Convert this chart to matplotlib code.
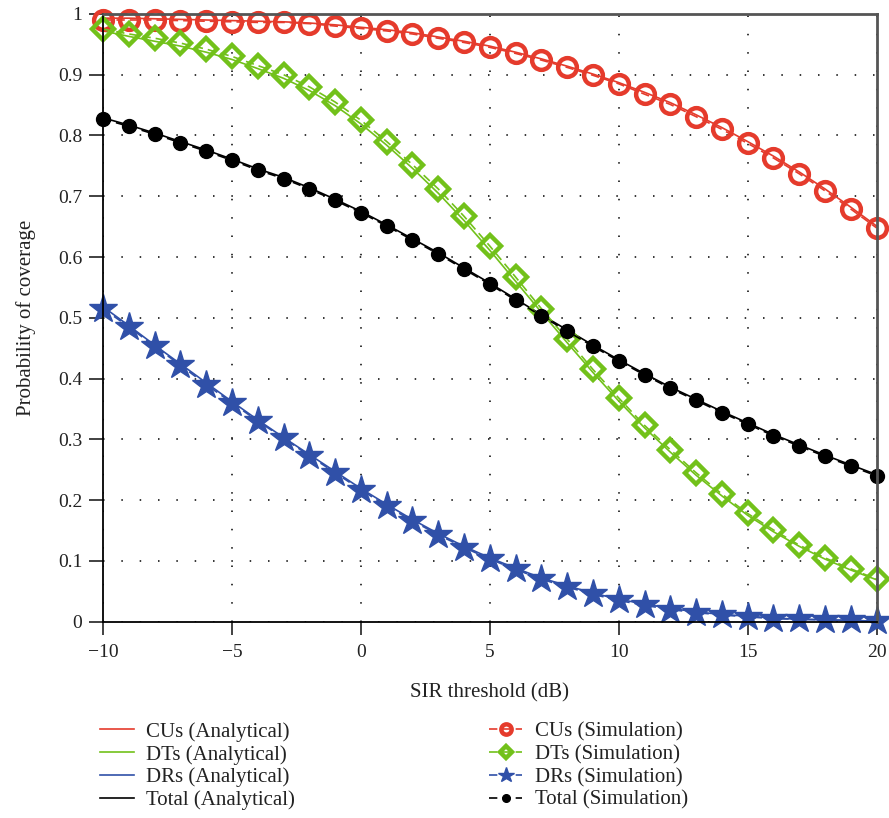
import matplotlib.pyplot as plt
import numpy as np

plt.rcParams['font.family'] = ['Liberation Serif', 'DejaVu Serif']
plt.rcParams['axes.unicode_minus'] = True

# Data
sir_db = list(range(-10, 21))

cus_sim = [0.990, 0.990, 0.990, 0.989, 0.988, 0.987, 0.986, 0.986, 0.984, 0.980, 0.976,
           0.972, 0.967, 0.960, 0.953, 0.945, 0.935, 0.924, 0.912, 0.899, 0.885,
           0.868, 0.851, 0.831, 0.810, 0.787, 0.763, 0.737, 0.709, 0.679, 0.648]
cus_ana = [0.993, 0.993, 0.992, 0.991, 0.990, 0.989, 0.988, 0.987, 0.985, 0.982, 0.978,
           0.974, 0.969, 0.962, 0.955, 0.947, 0.937, 0.926, 0.914, 0.901, 0.887,
           0.871, 0.854, 0.834, 0.813, 0.790, 0.766, 0.740, 0.712, 0.682, 0.651]

dts_sim = [0.975, 0.967, 0.960, 0.952, 0.942, 0.930, 0.915, 0.900, 0.880, 0.855, 0.825,
           0.790, 0.752, 0.712, 0.667, 0.618, 0.567, 0.515, 0.465, 0.415, 0.368,
           0.323, 0.283, 0.245, 0.210, 0.178, 0.151, 0.126, 0.105, 0.087, 0.070]
dts_ana = [0.972, 0.963, 0.955, 0.947, 0.937, 0.925, 0.910, 0.894, 0.874, 0.849, 0.819,
           0.784, 0.746, 0.705, 0.660, 0.611, 0.560, 0.509, 0.459, 0.410, 0.363,
           0.319, 0.279, 0.241, 0.207, 0.175, 0.148, 0.124, 0.103, 0.085, 0.069]

drs_sim = [0.515, 0.485, 0.453, 0.422, 0.390, 0.360, 0.330, 0.302, 0.273, 0.245, 0.217,
           0.190, 0.166, 0.143, 0.122, 0.103, 0.086, 0.070, 0.057, 0.045, 0.035,
           0.027, 0.020, 0.015, 0.011, 0.008, 0.005, 0.004, 0.003, 0.002, 0.001]
drs_ana = [0.518, 0.487, 0.455, 0.424, 0.393, 0.362, 0.332, 0.303, 0.275, 0.247, 0.219,
           0.193, 0.168, 0.145, 0.124, 0.105, 0.088, 0.072, 0.059, 0.047, 0.037,
           0.029, 0.022, 0.016, 0.012, 0.009, 0.006, 0.004, 0.003, 0.002, 0.001]

tot_sim = [0.827, 0.815, 0.802, 0.788, 0.774, 0.759, 0.743, 0.729, 0.712, 0.693, 0.673,
           0.651, 0.628, 0.605, 0.580, 0.555, 0.529, 0.503, 0.478, 0.453, 0.429,
           0.406, 0.384, 0.364, 0.344, 0.325, 0.306, 0.289, 0.272, 0.256, 0.240]
tot_ana = [0.829, 0.817, 0.804, 0.790, 0.776, 0.761, 0.745, 0.731, 0.714, 0.695, 0.675,
           0.653, 0.630, 0.607, 0.582, 0.557, 0.531, 0.505, 0.480, 0.455, 0.431,
           0.408, 0.386, 0.366, 0.346, 0.327, 0.308, 0.291, 0.274, 0.258, 0.242]

yticks = [0, 0.1, 0.2, 0.3, 0.4, 0.5, 0.6, 0.7, 0.8, 0.9, 1]
ytick_labels = ['0', '0.1', '0.2', '0.3', '0.4', '0.5', '0.6', '0.7', '0.8', '0.9', '1']
xticks = [-10, -5, 0, 5, 10, 15, 20]

red = '#E53B2C'
green = '#72C11A'
blue = '#3050A8'
black = '#000000'

fig = plt.figure(figsize=(8.89, 8.18), dpi=100)
ax = fig.add_axes([0.116, 0.24, 0.870, 0.743])

# Analytical (solid)
ax.plot(sir_db, cus_ana, color=red, lw=1.2, label='CUs (Analytical)')
ax.plot(sir_db, dts_ana, color=green, lw=1.2, label='DTs (Analytical)')
ax.plot(sir_db, drs_ana, color=blue, lw=1.2, label='DRs (Analytical)')
ax.plot(sir_db, tot_ana, color=black, lw=1.2, label='Total (Analytical)')

# Simulation (dashed + markers)
ax.plot(sir_db, cus_sim, color=red, lw=1.2, ls=(0, (5, 3)), marker='o', ms=13.5,
        mfc='none', mew=3.2, label='CUs (Simulation)', clip_on=False)
ax.plot(sir_db, dts_sim, color=green, lw=1.2, ls=(0, (5, 3)), marker='D', ms=11,
        mfc='none', mew=3.2, label='DTs (Simulation)', clip_on=False)
ax.plot(sir_db, drs_sim, color=blue, lw=1.2, ls=(0, (5, 3)), marker='*', ms=21,
        label='DRs (Simulation)', clip_on=False)
ax.plot(sir_db, tot_sim, color=black, lw=1.2, ls=(0, (5, 3)), marker='o', ms=10,
        label='Total (Simulation)', clip_on=False)

ax.set_xlim(-10, 20)
ax.set_ylim(0, 1)
ax.set_xticks(xticks)
ax.set_yticks(yticks)
ax.set_yticklabels(ytick_labels)
ax.tick_params(axis='x', direction='out', length=9, width=1.3, labelsize=14,
               color='#333333', labelcolor='#222222', pad=7)
ax.tick_params(axis='y', direction='out', length=10, width=1.3, labelsize=14,
               color='#333333', labelcolor='#222222', pad=5)
ax.grid(True, color='black', linestyle=(0, (1, 11)), linewidth=1.1)

for s in ['left', 'bottom']:
    ax.spines[s].set_linewidth(1.3)
for s in ['top', 'right']:
    ax.spines[s].set_color('#555555')
    ax.spines[s].set_linewidth(2)

ax.set_xlabel('SIR threshold (dB)', fontsize=15, labelpad=16, color='#222222')
ax.set_ylabel('Probability of coverage', fontsize=15, labelpad=16, color='#222222')

handles, labels = ax.get_legend_handles_labels()
leg = fig.legend(handles, labels, ncol=2, loc='upper left',
                 bbox_to_anchor=(0.113, 1 - 722 / 818), frameon=False,
                 fontsize=15, handlelength=1.6, handletextpad=0.6,
                 columnspacing=9.3, labelspacing=0.15, markerscale=0.55,
                 borderpad=0, borderaxespad=0)
for t in leg.get_texts():
    t.set_color('#222222')

fig.savefig('out.png', dpi=100)
